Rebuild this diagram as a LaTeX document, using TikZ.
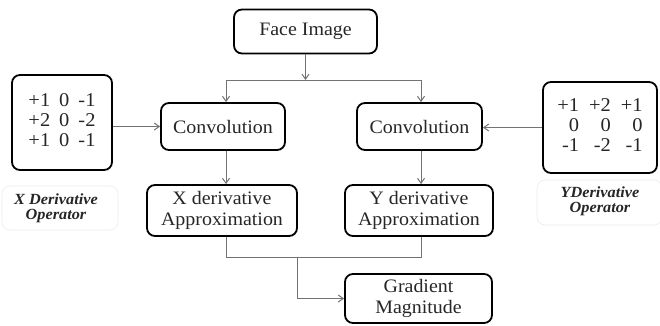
\documentclass[tikz,border=0pt]{standalone}
\usepackage{fontspec}
\setmainfont{Liberation Serif}[FakeStretch=1.05]
\usetikzlibrary{arrows.meta}
\begin{document}
\begin{tikzpicture}[x=1pt,y=-1pt,
  box/.style={draw=black,line width=1.8pt,rounded corners=8pt,align=center,
    text=black!85,font=\fontsize{19}{21}\selectfont,inner sep=0pt},
  conn/.style={draw=black!55,line width=1pt},
  arr/.style={conn,-{Straight Barb[length=5pt,width=7pt]}},
  lbl/.style={align=center,font=\fontsize{15.5}{15}\selectfont\bfseries\itshape,text=black!85},
  faint/.style={draw=black!8,line width=0.6pt,rounded corners=8pt}
]
\useasboundingbox (0,0) rectangle (660,325);
% faint label frames
\draw[faint] (2,186) rectangle (118,230);
\draw[faint] (537,180) rectangle (662,225);

\node[box,minimum width=143pt,minimum height=44pt] (face) at (305.5,31.5) {Face Image};
\node[box,minimum width=124pt,minimum height=47pt] (conv1) at (223,126.5) {Convolution};
\node[box,minimum width=125pt,minimum height=47pt] (conv2) at (419.5,126.5) {Convolution};
\node[box,minimum width=150pt,minimum height=51pt] (dx) at (222,210.5) {X derivative\\Approximation};
\node[box,minimum width=148pt,minimum height=51pt] (dy) at (419,210.5) {Y derivative\\Approximation};
\node[box,minimum width=147pt,minimum height=49pt] (grad) at (418.5,298.5) {Gradient\\Magnitude};

\node[box,minimum width=100pt,minimum height=95pt] (mx) at (62,122.5)
  {\fontsize{19.5}{20}\selectfont\renewcommand{\arraystretch}{1.0}\setlength{\tabcolsep}{4.5pt}\begin{tabular}{rrr}+1&0&-1\\+2&0&-2\\+1&0&-1\end{tabular}};
\node[box,minimum width=114pt,minimum height=91pt] (my) at (600,127.5)
  {\fontsize{19.5}{20}\selectfont\renewcommand{\arraystretch}{1.0}\setlength{\tabcolsep}{5pt}\begin{tabular}{rrr}+1&+2&+1\\0&0&0\\-1&-2&-1\end{tabular}};

\node[lbl] (lx) at (56,208) {X Derivative\\Operator};
\node[lbl] (ly) at (600,201) {YDerivative\\Operator};

% connectors
\coordinate (split) at (305.5,80);
\coordinate (sl) at (226,80);
\coordinate (sr) at (421,80);
\draw[arr] (face.south) -- (split);
\draw[conn] (sl) -- (sr);
\draw[arr] (sl) -- (sl |- conv1.north);
\draw[arr] (sr) -- (sr |- conv2.north);
\draw[arr] (sl |- conv1.south) -- (sl |- dx.north);
\draw[arr] (sr |- conv2.south) -- (sr |- dy.north);
\coordinate (jl) at (226,257);
\coordinate (jr) at (421,257);
\coordinate (jm) at (297,257);
\draw[conn] (sl |- dx.south) -- (jl) -- (jr) -- (sr |- dy.south);
\draw[arr] (jm) |- (grad.west);
\draw[arr] (mx.east |- conv1) -- (conv1.west);
\draw[arr] (my.west) -- (conv2.east |- my.west);
\end{tikzpicture}
\end{document}
